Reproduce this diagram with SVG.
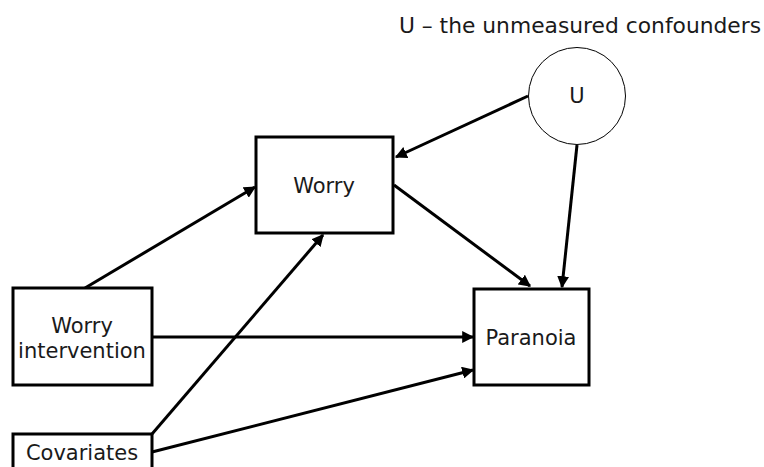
<svg xmlns="http://www.w3.org/2000/svg" width="764" height="467" viewBox="0 0 764 467">
  <style>
    .box { fill: #ffffff; stroke: #000000; stroke-width: 3; }
    .circ { fill: #ffffff; stroke: #000000; stroke-width: 1; }
    .lbl { font-family: "DejaVu Sans", Verdana, sans-serif; font-size: 21px; fill: #1a1a1a; text-anchor: middle; }
    .edge { stroke: #000000; stroke-width: 3; fill: none; marker-end: url(#head); }
  </style>
  <defs>
    <marker id="head" viewBox="0 0 10 10" refX="9" refY="5" markerWidth="4" markerHeight="4" orient="auto" markerUnits="strokeWidth">
      <path d="M0,0 L10,5 L0,10 z" fill="#000000"/>
    </marker>
  </defs>

  <!-- connectors -->
  <g id="connectors">
    <line class="edge" x1="528" y1="96" x2="396" y2="157"/>
    <line class="edge" x1="577" y1="145" x2="562" y2="287"/>
    <line class="edge" x1="394" y1="185" x2="530" y2="286"/>
    <line class="edge" x1="85" y1="288" x2="255" y2="187"/>
    <line class="edge" x1="152" y1="337" x2="473" y2="337"/>
    <line class="edge" x1="152" y1="434" x2="323" y2="235"/>
    <line class="edge" x1="152" y1="452" x2="473" y2="370"/>
  </g>

  <text class="lbl" x="580" y="33" style="font-size:21.8px">U – the unmeasured confounders</text>

  <g id="node-u">
    <circle class="circ" cx="577" cy="96" r="48.5"/>
    <text class="lbl" x="577" y="103">U</text>
  </g>

  <g id="node-worry">
    <rect class="box" x="256" y="137" width="137" height="96"/>
    <text class="lbl" x="324" y="193">Worry</text>
  </g>

  <g id="node-paranoia">
    <rect class="box" x="474" y="289" width="115" height="96"/>
    <text class="lbl" x="531" y="345">Paranoia</text>
  </g>

  <g id="node-intervention">
    <rect class="box" x="13" y="288" width="139" height="97"/>
    <text class="lbl" x="82" y="333">Worry</text>
    <text class="lbl" x="82" y="358">intervention</text>
  </g>

  <g id="node-covariates">
    <rect class="box" x="13" y="434" width="139" height="40"/>
    <text class="lbl" x="82" y="460">Covariates</text>
  </g>
</svg>
